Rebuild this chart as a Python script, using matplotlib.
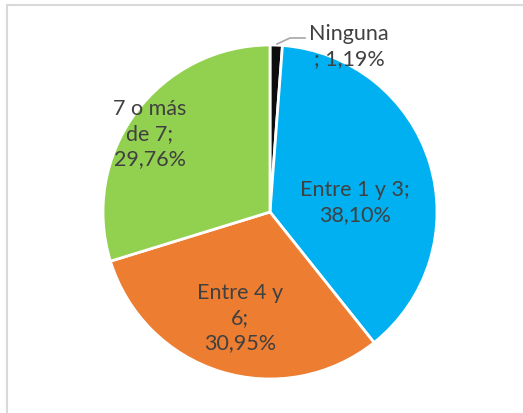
import matplotlib
matplotlib.use("Agg")
import matplotlib.pyplot as plt
from matplotlib.patches import Rectangle
from matplotlib.lines import Line2D

categories = ["Ninguna", "Entre 1 y 3", "Entre 4 y 6", "7 o más de 7"]
values = [1.19, 38.10, 30.95, 29.76]
label_texts = ["Ninguna\n; 1,19%", "Entre 1 y 3;\n38,10%", "Entre 4 y\n6;\n30,95%", "7 o más\nde 7;\n29,76%"]
colors = ["#0D0D0D", "#00B0F0", "#ED7D31", "#92D050"]

W, H = 523, 414
fig = plt.figure(figsize=(W / 100, H / 100), dpi=100)
fig.patch.set_facecolor("white")

cx, cy, r = 270, 213, 167
ax = fig.add_axes([(cx - r) / W, (H - cy - r) / H, 2 * r / W, 2 * r / H])
ax.pie(values, colors=colors, startangle=90, counterclock=False, radius=1,
       wedgeprops=dict(edgecolor="white", linewidth=2))
ax.set_xlim(-1, 1)
ax.set_ylim(-1, 1)
ax.set_aspect("equal")
ax.axis("off")

def d(px, py):
    return ((px - cx) / r, (cy - py) / r)

label_pos = [d(349, 47), d(355, 203), d(240, 318), d(150, 134)]
for txt, (x, y) in zip(label_texts, label_pos):
    ax.text(x, y, txt, ha="center", va="center", multialignment="center",
            fontsize=15.5, family="Lato",
            color="#404040", linespacing=1.32, clip_on=False)

# leader line for the small slice
pts = [d(277, 45), d(290, 39), d(305, 39)]
ax.add_line(Line2D([p[0] for p in pts], [p[1] for p in pts], color="#A6A6A6",
                   linewidth=1.2, clip_on=False))

# chart border
fig.patches.append(Rectangle((6.5 / W, -0.1), 1.2, (H - 5.5) / H + 0.1,
                             transform=fig.transFigure, fill=False,
                             edgecolor="#D9D9D9", linewidth=1.5))

fig.savefig("out.png", dpi=100, facecolor="white")
